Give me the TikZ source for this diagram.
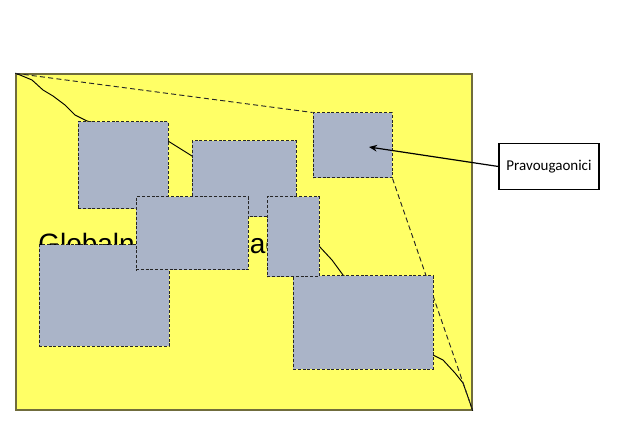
\documentclass[tikz,border=0pt]{standalone}
\usepackage{fontspec}
\setmainfont{Liberation Sans}
\newfontfamily\calibri{Carlito}
\usetikzlibrary{fit,arrows.meta}
\definecolor{zuta}{RGB}{255,255,102}
\definecolor{siva}{RGB}{170,180,200}
\definecolor{okvir}{RGB}{112,108,60}

\begin{document}
\begin{tikzpicture}[x=0.75pt, y=-0.75pt,
              globalni/.style = {draw=okvir, line width=1pt, fill=zuta, inner sep=0},
              pravougaonik/.style = {draw=black!85, fill=siva, line width=0.75pt,
                dash pattern=on 2.2pt off 1.4pt, inner sep=0},
              ljuska/.style = {draw=black!85, line width=0.7pt, dash pattern=on 3.8pt off 2.4pt},
              kriva/.style = {draw=black, line width=0.7pt},
              oznaka/.style = {draw, line width=0.8pt, minimum width=75pt, minimum height=35pt,
                font=\calibri\fontsize{11.25}{13}\selectfont}]
  \useasboundingbox (0,0) rectangle (643,424);
  % globalni pravougaonik i naslov
  \node[globalni, fit={(16,74) (472,410)}] (glob) {};
  \node[anchor=base west, inner sep=0, font=\fontsize{21}{25}\selectfont] (naslov) at (38,253) {Globalni pravougaonik};
  % kriva od ugla do ugla
  \draw[kriva] (glob.north west) -- (20,75) -- (32,80) -- (43,90) -- (53,96) -- (65,105) -- (75,115) -- (87,121)
    -- (168,141) -- (192,156) -- (319,246) -- (332,260) -- (343,275) -- (433,355) -- (443,360)
    -- (455,373) -- (463,383) -- (468,397) -- (glob.south east);
  \node[pravougaonik, fit={(313,113) (392,178)}] (r3) {};
  \draw[ljuska] (glob.north west) -- (r3.north west);
  \draw[ljuska] (r3.south east) -- (glob.south east);
  % pravougaonici
  \node[pravougaonik, fit={(78,122) (168,209)}] (r1) {};
  \node[pravougaonik, fit={(192,141) (296,217)}] (r2) {};
  \node[pravougaonik, fit={(39,245) (169,346)}] (r6) {};
  \node[pravougaonik, fit={(293,276) (433,369)}] (r7) {};
  \node[pravougaonik, fit={(136,197) (248,270)}] (r4) {};
  \node[pravougaonik, fit={(267,197) (319,277)}] (r5) {};
  % oznaka
  \node[oznaka] (lab) at (549,166.5) {Pravougaonici};
  \coordinate (vrh) at (369,147);
  \draw[-{Stealth[length=6pt, width=5pt]}, line width=0.9pt] (lab.west) -- (vrh);
\end{tikzpicture}
\end{document}
